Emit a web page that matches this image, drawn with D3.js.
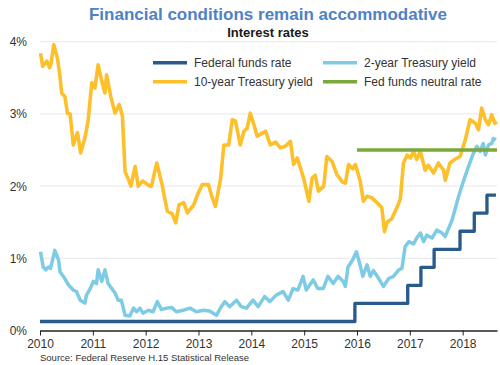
<!DOCTYPE html>
<html>
<head>
<meta charset="utf-8">
<script src="https://cdn.jsdelivr.net/npm/d3@7"></script>
<style>
  body { margin: 0; background: #fff; }
  text { font-family: "Liberation Sans", Arial, sans-serif; }
</style>
</head>
<body>
<div id="chart"></div>
<script>
var width = 500,
    height = 365;

// 10-year Treasury yield [decimal year, %]
var tenYear = [
  [2010.01,3.84],[2010.05,3.66],[2010.13,3.73],[2010.18,3.64],[2010.21,3.70],[2010.26,3.96],
  [2010.33,3.77],[2010.37,3.57],[2010.41,3.29],[2010.47,3.24],[2010.52,3.01],[2010.57,3.00],
  [2010.63,2.57],[2010.71,2.74],[2010.77,2.46],[2010.85,2.67],[2010.91,2.90],[2010.98,3.43],
  [2011.04,3.36],[2011.10,3.68],[2011.17,3.45],[2011.23,3.29],[2011.26,3.54],[2011.34,3.24],
  [2011.42,3.01],[2011.50,3.13],[2011.56,2.97],[2011.61,2.20],[2011.67,2.10],[2011.72,2.00],
  [2011.80,2.27],[2011.86,2.00],[2011.94,2.07],[2012.08,2.00],[2012.11,2.00],[2012.21,2.32],
  [2012.31,2.02],[2012.41,1.65],[2012.50,1.62],[2012.57,1.49],[2012.63,1.74],[2012.72,1.77],
  [2012.79,1.63],[2012.91,1.74],[2012.98,1.88],[2013.07,2.02],[2013.19,2.02],[2013.26,1.84],
  [2013.32,1.72],[2013.42,2.11],[2013.48,2.57],[2013.57,2.57],[2013.64,2.92],[2013.70,2.90],
  [2013.79,2.57],[2013.86,2.76],[2013.92,2.80],[2013.98,3.01],[2014.05,2.85],[2014.11,2.69],
  [2014.20,2.73],[2014.27,2.76],[2014.36,2.57],[2014.46,2.61],[2014.55,2.53],[2014.64,2.55],
  [2014.74,2.62],[2014.80,2.30],[2014.87,2.39],[2014.93,2.25],[2014.99,2.11],[2015.09,1.79],
  [2015.15,2.11],[2015.21,2.15],[2015.27,1.93],[2015.37,2.00],[2015.43,2.41],[2015.53,2.34],
  [2015.62,2.16],[2015.72,2.06],[2015.78,2.04],[2015.84,2.30],[2015.92,2.24],[2015.97,2.30],
  [2016.06,2.07],[2016.12,1.79],[2016.19,1.86],[2016.28,1.84],[2016.38,1.77],[2016.47,1.70],
  [2016.52,1.37],[2016.57,1.50],[2016.66,1.55],[2016.76,1.71],[2016.82,1.82],[2016.88,2.32],
  [2016.95,2.43],[2017.01,2.39],[2017.07,2.48],[2017.13,2.37],[2017.20,2.48],[2017.29,2.22],
  [2017.35,2.29],[2017.45,2.18],[2017.54,2.32],[2017.64,2.22],[2017.67,2.08],[2017.76,2.32],
  [2017.85,2.37],[2017.95,2.41],[2018.05,2.64],[2018.14,2.92],[2018.24,2.87],[2018.30,2.78],
  [2018.36,3.08],[2018.43,2.92],[2018.49,2.85],[2018.55,2.99],[2018.61,2.87],[2018.65,2.89]
];

// 2-year Treasury yield
var twoYear = [
  [2010.01,1.09],[2010.06,0.88],[2010.11,0.84],[2010.16,0.88],[2010.20,0.86],[2010.28,1.11],
  [2010.35,0.98],[2010.38,0.81],[2010.47,0.72],[2010.54,0.63],[2010.63,0.56],[2010.69,0.54],
  [2010.76,0.42],[2010.85,0.38],[2010.88,0.49],[2010.95,0.58],[2011.01,0.68],[2011.07,0.65],
  [2011.10,0.84],[2011.17,0.68],[2011.23,0.84],[2011.29,0.65],[2011.36,0.58],[2011.42,0.52],
  [2011.48,0.42],[2011.54,0.42],[2011.61,0.21],[2011.70,0.20],[2011.77,0.31],[2011.83,0.26],
  [2011.89,0.31],[2011.95,0.24],[2012.05,0.28],[2012.14,0.26],[2012.22,0.40],[2012.30,0.29],
  [2012.40,0.31],[2012.49,0.32],[2012.58,0.26],[2012.71,0.28],[2012.84,0.31],[2012.96,0.26],
  [2013.09,0.28],[2013.21,0.27],[2013.34,0.21],[2013.43,0.33],[2013.50,0.40],[2013.59,0.33],
  [2013.72,0.42],[2013.81,0.33],[2013.91,0.31],[2014.03,0.42],[2014.13,0.33],[2014.25,0.47],
  [2014.35,0.40],[2014.47,0.49],[2014.60,0.54],[2014.70,0.42],[2014.79,0.58],[2014.88,0.56],
  [2014.98,0.75],[2015.04,0.56],[2015.17,0.70],[2015.26,0.58],[2015.36,0.58],[2015.45,0.75],
  [2015.55,0.65],[2015.64,0.75],[2015.74,0.68],[2015.78,0.61],[2015.83,0.88],[2015.92,0.98],
  [2015.99,1.09],[2016.05,0.93],[2016.11,0.75],[2016.19,0.91],[2016.25,0.75],[2016.31,0.83],
  [2016.41,0.72],[2016.50,0.61],[2016.60,0.72],[2016.69,0.75],[2016.79,0.84],[2016.85,0.86],
  [2016.91,1.16],[2016.98,1.23],[2017.07,1.20],[2017.13,1.28],[2017.20,1.35],[2017.26,1.23],
  [2017.32,1.32],[2017.42,1.28],[2017.51,1.39],[2017.61,1.35],[2017.67,1.30],[2017.80,1.53],
  [2017.92,1.85],[2018.02,2.08],[2018.11,2.27],[2018.20,2.45],[2018.27,2.55],[2018.33,2.48],
  [2018.39,2.59],[2018.43,2.43],[2018.49,2.57],[2018.55,2.59],[2018.58,2.66],[2018.63,2.64]
];

// Federal funds rate (midpoint of target range), step changes
var fedFunds = [
  [2010.00,0.125],[2015.96,0.375],[2016.96,0.625],[2017.21,0.875],[2017.46,1.125],
  [2017.95,1.375],[2018.22,1.625],[2018.46,1.875],[2018.63,1.875]
];

// Fed funds neutral rate
var neutral = [[2016.0,2.5],[2018.65,2.5]];

var yTicks = [0, 1, 2, 3, 4];
var xTicks = [2010, 2011, 2012, 2013, 2014, 2015, 2016, 2017, 2018];

var legendItems = [
  {name: "Federal funds rate", color: "#285a8c"},
  {name: "2-year Treasury yield", color: "#7ecbe6"},
  {name: "10-year Treasury yield", color: "#fdc02a"},
  {name: "Fed funds neutral rate", color: "#7aa83b"}
];

var svg = d3.select("#chart").append("svg")
    .attr("width", width)
    .attr("height", height);

var x = d3.scaleLinear().domain([2010, 2018.65]).range([40, 497]);
var y = d3.scaleLinear().domain([0, 4]).range([330.5, 41.7]);

// titles
svg.append("text")
    .attr("x", 268).attr("y", 19.5)
    .attr("text-anchor", "middle")
    .style("font-size", "17px").style("font-weight", "bold")
    .style("fill", "#4f81c7")
    .text("Financial conditions remain accommodative");

svg.append("text")
    .attr("x", 268).attr("y", 37)
    .attr("text-anchor", "middle")
    .style("font-size", "13px").style("font-weight", "bold")
    .style("fill", "#1a1a1a")
    .text("Interest rates");

// gridlines
svg.append("g").selectAll("line")
    .data(yTicks.slice(1))
    .enter().append("line")
    .attr("x1", 40).attr("x2", 497)
    .attr("y1", function(d) { return y(d); })
    .attr("y2", function(d) { return y(d); })
    .style("stroke", "#e8e8e8").style("stroke-width", 1);

// y labels
svg.append("g").selectAll("text")
    .data(yTicks)
    .enter().append("text")
    .attr("x", 27)
    .attr("y", function(d) { return y(d) + 4.5; })
    .attr("text-anchor", "end")
    .style("font-size", "12px").style("fill", "#333")
    .text(function(d) { return d + "%"; });

// x axis
var xAxis = d3.axisBottom(x)
    .tickValues(xTicks)
    .tickFormat(d3.format("d"))
    .tickSize(5)
    .tickSizeOuter(0);

var gx = svg.append("g")
    .attr("transform", "translate(0," + y(0) + ")")
    .call(xAxis);
gx.select(".domain").style("stroke", "#222").style("stroke-width", 1.5);
gx.selectAll(".tick line").style("stroke", "#222");
gx.selectAll(".tick text")
    .attr("dy", null).attr("y", 17)
    .style("font-size", "12px").style("fill", "#333")
    .style("font-family", "'Liberation Sans', Arial, sans-serif");

var line = d3.line()
    .x(function(d) { return x(d[0]); })
    .y(function(d) { return y(d[1]); })
    .curve(d3.curveLinear);

var stepLine = d3.line()
    .x(function(d) { return x(d[0]); })
    .y(function(d) { return y(d[1]); })
    .curve(d3.curveStepAfter);

var lines = svg.append("g").style("fill", "none").style("stroke-linejoin", "round");

lines.append("path").datum(fedFunds)
    .attr("d", stepLine)
    .style("stroke", "#285a8c").style("stroke-width", 3.3);

lines.append("path").datum(twoYear)
    .attr("d", line)
    .style("stroke", "#7ecbe6").style("stroke-width", 3.5);

lines.append("path").datum(tenYear)
    .attr("d", line)
    .style("stroke", "#fdc02a").style("stroke-width", 3.6);

lines.append("path").datum(neutral)
    .attr("d", line)
    .style("stroke", "#7aa83b").style("stroke-width", 3.3);

// legend
var legend = svg.append("g").selectAll("g")
    .data(legendItems)
    .enter().append("g")
    .attr("transform", function(d, i) {
        var lx = (i % 2 === 0) ? 153 : 323;
        var ly = (i < 2) ? 62.7 : 81.7;
        return "translate(" + lx + "," + ly + ")";
    });

legend.append("line")
    .attr("x1", 0).attr("x2", 34)
    .style("stroke", function(d) { return d.color; })
    .style("stroke-width", 3.5);

legend.append("text")
    .attr("x", 41).attr("y", 4.5)
    .style("font-size", "12px").style("fill", "#333")
    .text(function(d) { return d.name; });

// source
svg.append("text")
    .attr("x", 40).attr("y", 361)
    .style("font-size", "9.5px").style("fill", "#333")
    .text("Source: Federal Reserve H.15 Statistical Release");
</script>
</body>
</html>
